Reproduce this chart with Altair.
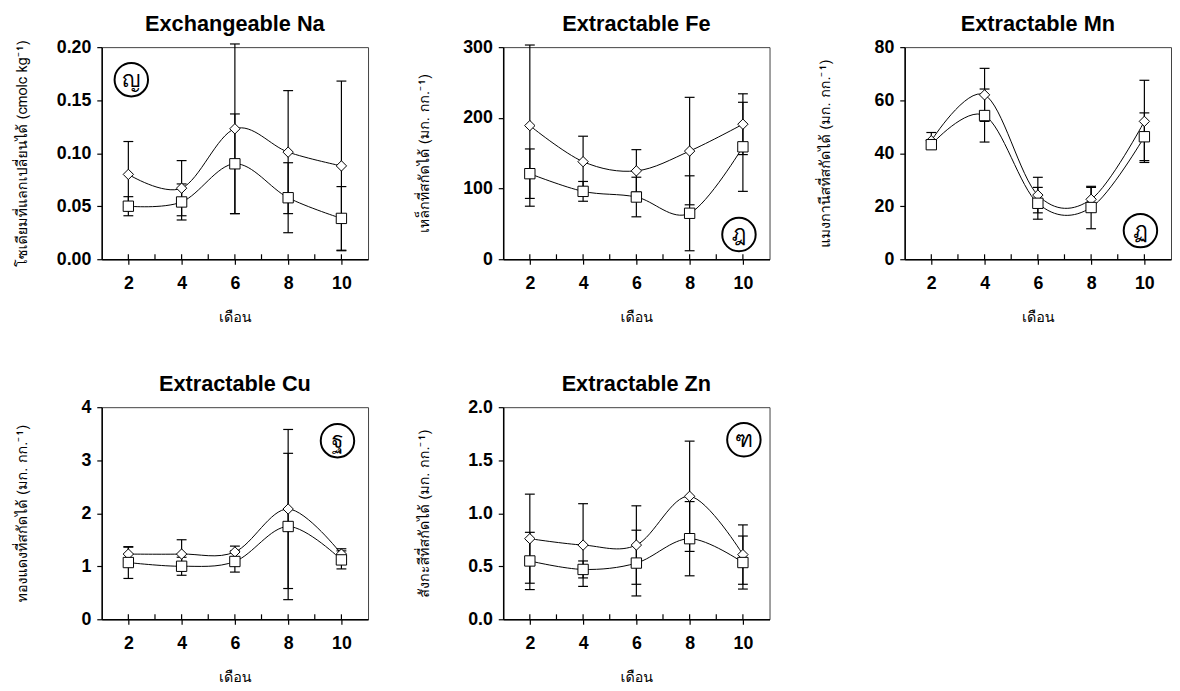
import altair as alt
import pandas as pd

months = [2, 4, 6, 8, 10]
xticks_inner = [2, 3, 4, 5, 6, 7, 8, 9, 10]

# Exchangeable Na
na_d = [0.080, 0.067, 0.123, 0.101, 0.088]
na_d_sd = [0.031, 0.026, 0.080, 0.058, 0.080]
na_s = [0.050, 0.054, 0.090, 0.058, 0.0385]
na_s_sd = [0.009, 0.017, 0.047, 0.033, 0.030]

# Extractable Fe
fe_d = [189, 138, 125, 153, 191]
fe_d_sd = [114, 36, 30, 76, 43]
fe_s = [121, 96, 88, 65, 159]
fe_s_sd = [35, 14, 28, 53, 63]

# Extractable Mn
mn_d = [44.7, 62.0, 24.2, 22.6, 52.0]
mn_d_sd = [3.1, 10.0, 6.7, 4.5, 15.5]
mn_s = [43.2, 54.2, 21.1, 19.5, 46.2]
mn_s_sd = [1.0, 10.0, 6.0, 8.0, 9.0]

# Extractable Cu
cu_d = [1.23, 1.23, 1.27, 2.08, 1.23]
cu_d_sd = [0.13, 0.27, 0.11, 1.50, 0.10]
cu_s = [1.07, 1.00, 1.09, 1.75, 1.12]
cu_s_sd = [0.30, 0.17, 0.20, 1.38, 0.17]

# Extractable Zn
zn_d = [0.76, 0.70, 0.70, 1.16, 0.61]
zn_d_sd = [0.42, 0.39, 0.37, 0.52, 0.28]
zn_s = [0.55, 0.47, 0.53, 0.76, 0.535]
zn_s_sd = [0.27, 0.08, 0.31, 0.35, 0.25]

W, H = 270, 215
LATIN = "Liberation Sans, Arial, sans-serif"
THAI = "Tahoma, Loma, 'Noto Sans Thai', Garuda, 'Liberation Sans', sans-serif"


def panel(title, ytitle, dmean, dsd, smean, ssd, ydomain, yvalues, yfmt, letter, lx, ly):
    rows = []
    for m, v, e in zip(months, dmean, dsd):
        rows.append({"m": m, "ser": "d", "v": v, "lo": v - e, "hi": v + e})
    for m, v, e in zip(months, smean, ssd):
        rows.append({"m": m, "ser": "s", "v": v, "lo": v - e, "hi": v + e})
    df = pd.DataFrame(rows)

    xs = alt.Scale(domain=[1, 11], nice=False, zero=False)
    ys = alt.Scale(domain=ydomain, nice=False, zero=False)
    xax = alt.Axis(values=months, title="เดือน", format="d")
    yax = alt.Axis(values=yvalues, format=yfmt, title=ytitle)

    base = alt.Chart(df)
    X = alt.X("m:Q", scale=xs, axis=xax)

    bars = base.mark_rule(color="black", strokeWidth=1.2).encode(
        x=X, y=alt.Y("lo:Q", scale=ys, axis=yax), y2="hi:Q")
    cap_hi = base.mark_tick(orient="horizontal", color="black", size=10, thickness=1.2, opacity=1).encode(
        x=X, y=alt.Y("hi:Q", scale=ys, axis=yax))
    cap_lo = base.mark_tick(orient="horizontal", color="black", size=10, thickness=1.2, opacity=1).encode(
        x=X, y=alt.Y("lo:Q", scale=ys, axis=yax))
    lines = base.mark_line(interpolate="cardinal", tension=0, color="black", strokeWidth=1).encode(
        x=X, y=alt.Y("v:Q", scale=ys, axis=yax), detail="ser:N")
    pts = base.mark_point(filled=True, fill="white", stroke="black", strokeWidth=1, size=110, opacity=1).encode(
        x=X, y=alt.Y("v:Q", scale=ys, axis=yax),
        shape=alt.Shape("ser:N", scale=alt.Scale(domain=["d", "s"], range=["diamond", "square"]), legend=None))
    inner = alt.Chart(pd.DataFrame({"t": xticks_inner})).mark_rule(color="black", strokeWidth=1.2).encode(
        x=alt.X("t:Q", scale=xs, axis=xax), y=alt.value(H), y2=alt.value(H - 5))
    ann = alt.Chart(alt.Data(values=[{"lab": letter}]))
    circ = ann.mark_point(shape="circle", size=1150, filled=False, color="black", strokeWidth=2, opacity=1).encode(
        x=alt.value(lx), y=alt.value(ly))
    txt = ann.mark_text(fontSize=22, font=THAI, color="black", align="center", baseline="middle").encode(
        x=alt.value(lx), y=alt.value(ly), text="lab:N")

    return alt.layer(bars, cap_hi, cap_lo, lines, pts, inner, circ, txt).properties(
        width=W, height=H, title=title)


p1 = panel("Exchangeable Na", "โซเดียมที่แลกเปลี่ยนได้ (cmolc kg⁻¹)", na_d, na_d_sd, na_s, na_s_sd,
           [0, 0.2], [0, 0.05, 0.10, 0.15, 0.20], ".2f", "ญ", 30, 33)
p2 = panel("Extractable Fe", "เหล็กที่สกัดได้ (มก. กก.⁻¹)", fe_d, fe_d_sd, fe_s, fe_s_sd,
           [0, 300], [0, 100, 200, 300], "d", "ฎ", W - 31, 190)
p3 = panel("Extractable Mn", "แมงกานีสที่สกัดได้ (มก. กก.⁻¹)", mn_d, mn_d_sd, mn_s, mn_s_sd,
           [0, 80], [0, 20, 40, 60, 80], "d", "ฏ", W - 31, 186)
p4 = panel("Extractable Cu", "ทองแดงที่สกัดได้ (มก. กก.⁻¹)", cu_d, cu_d_sd, cu_s, cu_s_sd,
           [0, 4], [0, 1, 2, 3, 4], "d", "ฐ", W - 31, 34)
p5 = panel("Extractable Zn", "สังกะสีที่สกัดได้ (มก. กก.⁻¹)", zn_d, zn_d_sd, zn_s, zn_s_sd,
           [0, 2], [0, 0.5, 1.0, 1.5, 2.0], ".1f", "ฑ", W - 26, 33)

row1 = alt.hconcat(p1, p2, p3, spacing=47)
row2 = alt.hconcat(p4, p5, spacing=47)
chart = alt.vconcat(row1, row2, spacing=49).properties(
    padding={"left": 6, "top": 0, "right": 0, "bottom": 0}
).configure_view(
    stroke="#404040", strokeWidth=1
).configure_axis(
    grid=False, domainColor="black", domainWidth=1.5, tickColor="black", tickWidth=1.2, tickSize=5,
    labelFont=LATIN, labelFontWeight="bold", labelFontSize=18, labelColor="black",
    titleFont=THAI, titleFontWeight="normal", titleFontSize=14.5, titleColor="black"
).configure_axisX(
    labelPadding=11, titlePadding=18, minExtent=34, maxExtent=34
).configure_axisY(
    labelPadding=6, titlePadding=29, minExtent=44, maxExtent=44
).configure_title(
    font=LATIN, fontSize=22, fontWeight="bold", color="black", anchor="middle", offset=2
)

chart.save("out.html", embed_options={"renderer": "svg", "actions": False})
